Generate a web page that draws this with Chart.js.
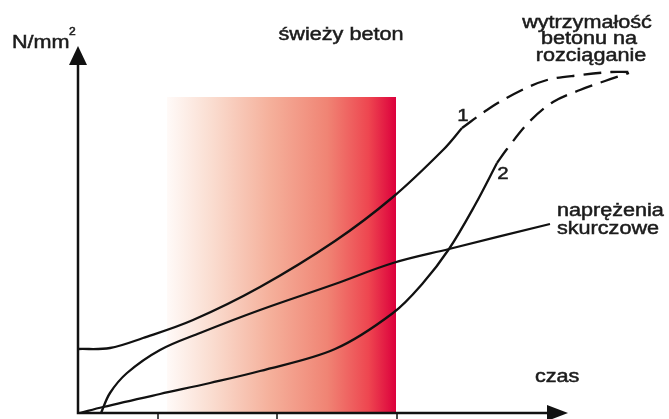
<!DOCTYPE html>
<html>
<head>
<meta charset="utf-8">
<script src="https://cdn.jsdelivr.net/npm/chart.js@4"></script>
<style>
  body { margin: 0; background: #fff; }
  #wrap { width: 669px; height: 419px; }
</style>
</head>
<body>
<div id="wrap"><canvas id="chart" width="669" height="419"></canvas></div>
<script>
// time axis (arbitrary units) and stress axis (N/mm², arbitrary units)
const timeTicks = [8, 19.9, 31.9];
const freshConcrete = [8.9, 31.8];   // time window of fresh concrete
const freshConcreteTop = 31.6;
const axisEnd = { x: 49, y: 36.7 };

// curve 1 – tensile strength (solid part, then dashed)
const c1X = [0, 3.2, 6.5, 11.5, 18.2, 25.7, 31.5, 36.5, 38.4];
const c1Y = [6.4, 6.5, 7.5, 9.3, 12.6, 17.2, 21.6, 26.3, 28.5];
const c1DashX = [38.4, 40.9, 43.6, 46.9, 50.3, 53.3, 55.1];
const c1DashY = [28.5, 30.3, 31.9, 33.3, 33.8, 34.1, 34.1];

// curve 2 – tensile strength (solid part, then dashed)
const c2X = [0.2, 2.5, 8.2, 13.2, 18.2, 25.7, 31.5, 34.5, 37.1, 39.7, 41.9];
const c2Y = [0, 0.6, 1.9, 3.0, 4.2, 6.4, 10.0, 13.0, 16.4, 20.8, 25.0];
const c2DashX = [41.9, 42.9, 45.2, 47.5, 50.2, 52.7, 55.1];
const c2DashY = [25.0, 26.4, 29.2, 31.1, 32.3, 33.2, 34.0];

// shrinkage stress
const shrinkX = [2.3, 3.2, 4.9, 8.2, 12.2, 18.2, 25.7, 31.5, 37.1, 47.2];
const shrinkY = [0, 2.0, 4.0, 6.3, 8.0, 10.3, 12.9, 15.0, 16.4, 18.9];

const pts = (xs, ys) => xs.map((x, i) => ({ x: x, y: ys[i] }));

const lineSet = (xs, ys, dashed) => ({
    data: pts(xs, ys),
    borderColor: '#111',
    borderWidth: 2.3,
    borderDash: dashed ? [18, 9] : [],
    pointRadius: 0,
    fill: false,
    tension: 0.35,
    clip: false
});

const TEXT_FONT = '18px "Liberation Sans", Arial, sans-serif';

// text is a bit wider than normal in the original drawing
const drawText = (ctx, text, x, y, align, font) => {
    ctx.save();
    ctx.font = font || TEXT_FONT;
    ctx.fillStyle = '#1c1c1c';
    ctx.strokeStyle = '#1c1c1c';
    ctx.lineWidth = 0.5;
    ctx.textBaseline = 'alphabetic';
    ctx.textAlign = align || 'left';
    ctx.scale(1.2, 1);
    ctx.fillText(text, x / 1.2, y);
    ctx.strokeText(text, x / 1.2, y);
    ctx.restore();
};

const diagramPlugin = {
    id: 'diagram',
    beforeDatasetsDraw(chart) {
        const { ctx, scales: { x, y } } = chart;
        const x0 = x.getPixelForValue(freshConcrete[0]);
        const x1 = x.getPixelForValue(freshConcrete[1]);
        const top = y.getPixelForValue(freshConcreteTop);
        const bottom = y.getPixelForValue(0);
        const g = ctx.createLinearGradient(x0, 0, x1, 0);
        g.addColorStop(0, '#fffaf8');
        g.addColorStop(0.2, '#fadccf');
        g.addColorStop(0.45, '#f5b09b');
        g.addColorStop(0.7, '#f08474');
        g.addColorStop(0.88, '#ee4650');
        g.addColorStop(1, '#dc003c');
        ctx.save();
        ctx.fillStyle = g;
        ctx.fillRect(x0, top, x1 - x0, bottom - top);
        ctx.restore();
    },
    afterDatasetsDraw(chart) {
        const { ctx, scales: { x, y } } = chart;
        const ox = x.getPixelForValue(0);
        const oy = y.getPixelForValue(0);
        const xEnd = x.getPixelForValue(axisEnd.x);
        const yEnd = y.getPixelForValue(axisEnd.y);

        ctx.save();
        ctx.strokeStyle = '#111';
        ctx.fillStyle = '#111';
        ctx.lineWidth = 2.5;
        ctx.beginPath();
        ctx.moveTo(ox, yEnd + 10);
        ctx.lineTo(ox, oy);
        ctx.lineTo(xEnd - 10, oy);
        ctx.stroke();

        // arrow heads
        ctx.beginPath();
        ctx.moveTo(ox, yEnd);
        ctx.lineTo(ox - 9, yEnd + 19);
        ctx.lineTo(ox + 9, yEnd + 19);
        ctx.closePath();
        ctx.fill();
        ctx.beginPath();
        ctx.moveTo(xEnd, oy);
        ctx.lineTo(xEnd - 21, oy - 8);
        ctx.lineTo(xEnd - 21, oy + 8);
        ctx.closePath();
        ctx.fill();

        // ticks below the time axis
        ctx.lineWidth = 1.5;
        timeTicks.forEach(t => {
            const px = x.getPixelForValue(t);
            ctx.beginPath();
            ctx.moveTo(px, oy);
            ctx.lineTo(px, oy + 7);
            ctx.stroke();
        });
        ctx.restore();

        // labels
        drawText(ctx, 'N/mm', 12, 48);
        drawText(ctx, '2', 69, 35, 'left', '10px "Liberation Sans", Arial, sans-serif');
        drawText(ctx, 'świeży beton', 341, 40, 'center');
        drawText(ctx, 'wytrzymałość', 587, 28, 'center');
        drawText(ctx, 'betonu na', 589, 44, 'center');
        drawText(ctx, 'rozciąganie', 591, 61, 'center');
        drawText(ctx, 'naprężenia', 557, 216);
        drawText(ctx, 'skurczowe', 557, 234);
        drawText(ctx, 'czas', 535, 382);
        drawText(ctx, '1', 463, 121, 'center', '17px "Liberation Sans", Arial, sans-serif');
        drawText(ctx, '2', 503, 179, 'center', '17px "Liberation Sans", Arial, sans-serif');
    }
};

new Chart(document.getElementById('chart'), {
    type: 'line',
    data: {
        datasets: [
            lineSet(c1X, c1Y, false),
            lineSet(c1DashX, c1DashY, true),
            lineSet(c2X, c2Y, false),
            lineSet(c2DashX, c2DashY, true),
            lineSet(shrinkX, shrinkY, false)
        ]
    },
    options: {
        responsive: false,
        animation: false,
        layout: { padding: { left: 78, right: 11, top: 13, bottom: 6 } },
        plugins: { legend: { display: false }, tooltip: { enabled: false } },
        scales: {
            x: { type: 'linear', min: 0, max: 58, display: false },
            y: { type: 'linear', min: 0, max: 40, display: false }
        }
    },
    plugins: [diagramPlugin]
});
</script>
</body>
</html>
